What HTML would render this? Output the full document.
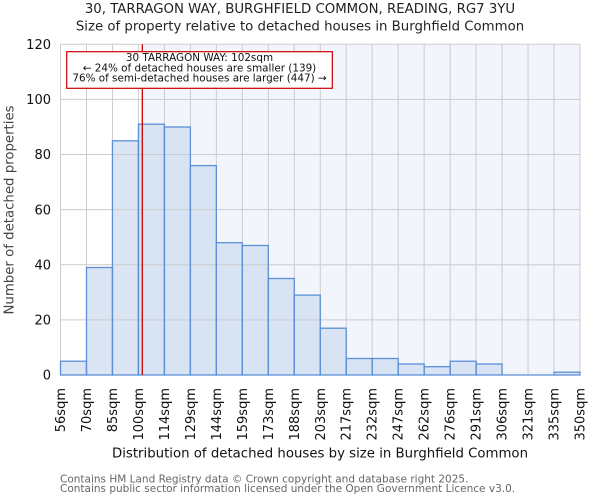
<!DOCTYPE html>
<html><head><meta charset="utf-8"><style>
html,body{margin:0;padding:0;background:#fff;}
svg{display:block;font-family:"DejaVu Sans","Liberation Sans",sans-serif;}
</style></head><body>
<svg width="600" height="500" viewBox="0 0 600 500" xmlns="http://www.w3.org/2000/svg">
<rect x="0" y="0" width="600" height="500" fill="#fff"/>
<text x="300" y="13" font-size="13.3" text-anchor="middle" fill="#222">30, TARRAGON WAY, BURGHFIELD COMMON, READING, RG7 3YU</text>
<text x="300" y="30.5" font-size="13.3" text-anchor="middle" fill="#222">Size of property relative to detached houses in Burghfield Common</text>
<!-- plot background -->
<rect x="60.5" y="44.3" width="82" height="330.7" fill="#ffffff"/>
<rect x="142.3" y="44.3" width="437.7" height="330.7" fill="#f2f5fc"/>
<!-- bars fill -->
<g fill="#d8e3f4" stroke="none">
<rect x="60.5" y="361.2" width="25.98" height="13.8" fill="#dce5f4"/>
<rect x="86.48" y="267.5" width="25.97" height="107.5" fill="#dce5f4"/>
<rect x="112.45" y="140.8" width="25.98" height="234.2" fill="#dce5f4"/>
<rect x="138.43" y="124.2" width="25.97" height="250.8"/>
<rect x="164.4" y="127.0" width="25.98" height="248"/>
<rect x="190.38" y="165.6" width="25.97" height="209.4"/>
<rect x="216.35" y="242.7" width="25.98" height="132.3"/>
<rect x="242.33" y="245.5" width="25.97" height="129.5"/>
<rect x="268.3" y="278.5" width="25.98" height="96.5"/>
<rect x="294.28" y="295.1" width="25.97" height="79.9"/>
<rect x="320.25" y="328.2" width="25.98" height="46.8"/>
<rect x="346.23" y="358.5" width="25.97" height="16.5"/>
<rect x="372.2" y="358.5" width="25.98" height="16.5"/>
<rect x="398.18" y="364.0" width="25.97" height="11"/>
<rect x="424.15" y="366.7" width="25.98" height="8.3"/>
<rect x="450.13" y="361.2" width="25.97" height="13.8"/>
<rect x="476.1" y="364.0" width="25.98" height="11"/>
<rect x="554.03" y="372.2" width="25.97" height="2.8"/>
</g>
<!-- grid -->
<g stroke="#cccccc" stroke-width="1" fill="none">
<line x1="60.5" y1="44.3" x2="580" y2="44.3"/>
<line x1="60.5" y1="99.4" x2="580" y2="99.4"/>
<line x1="60.5" y1="154.5" x2="580" y2="154.5"/>
<line x1="60.5" y1="209.6" x2="580" y2="209.6"/>
<line x1="60.5" y1="264.8" x2="580" y2="264.8"/>
<line x1="60.5" y1="319.9" x2="580" y2="319.9"/>
<line x1="60.5" y1="375" x2="580" y2="375"/>
<line x1="60.5" y1="44.3" x2="60.5" y2="375"/>
<line x1="86.48" y1="44.3" x2="86.48" y2="375"/>
<line x1="112.45" y1="44.3" x2="112.45" y2="375"/>
<line x1="138.43" y1="44.3" x2="138.43" y2="375"/>
<line x1="164.4" y1="44.3" x2="164.4" y2="375"/>
<line x1="190.38" y1="44.3" x2="190.38" y2="375"/>
<line x1="216.35" y1="44.3" x2="216.35" y2="375"/>
<line x1="242.33" y1="44.3" x2="242.33" y2="375"/>
<line x1="268.3" y1="44.3" x2="268.3" y2="375"/>
<line x1="294.28" y1="44.3" x2="294.28" y2="375"/>
<line x1="320.25" y1="44.3" x2="320.25" y2="375"/>
<line x1="346.23" y1="44.3" x2="346.23" y2="375"/>
<line x1="372.2" y1="44.3" x2="372.2" y2="375"/>
<line x1="398.18" y1="44.3" x2="398.18" y2="375"/>
<line x1="424.15" y1="44.3" x2="424.15" y2="375"/>
<line x1="450.13" y1="44.3" x2="450.13" y2="375"/>
<line x1="476.1" y1="44.3" x2="476.1" y2="375"/>
<line x1="502.08" y1="44.3" x2="502.08" y2="375"/>
<line x1="528.05" y1="44.3" x2="528.05" y2="375"/>
<line x1="554.03" y1="44.3" x2="554.03" y2="375"/>
<line x1="580" y1="44.3" x2="580" y2="375"/>
</g>
<!-- bar outlines -->
<g fill="none" stroke="#5b8fd6" stroke-width="1.3">
<rect x="60.5" y="361.2" width="25.98" height="13.8"/>
<rect x="86.48" y="267.5" width="25.97" height="107.5"/>
<rect x="112.45" y="140.8" width="25.98" height="234.2"/>
<rect x="138.43" y="124.2" width="25.97" height="250.8"/>
<rect x="164.4" y="127.0" width="25.98" height="248"/>
<rect x="190.38" y="165.6" width="25.97" height="209.4"/>
<rect x="216.35" y="242.7" width="25.98" height="132.3"/>
<rect x="242.33" y="245.5" width="25.97" height="129.5"/>
<rect x="268.3" y="278.5" width="25.98" height="96.5"/>
<rect x="294.28" y="295.1" width="25.97" height="79.9"/>
<rect x="320.25" y="328.2" width="25.98" height="46.8"/>
<rect x="346.23" y="358.5" width="25.97" height="16.5"/>
<rect x="372.2" y="358.5" width="25.98" height="16.5"/>
<rect x="398.18" y="364.0" width="25.97" height="11"/>
<rect x="424.15" y="366.7" width="25.98" height="8.3"/>
<rect x="450.13" y="361.2" width="25.97" height="13.8"/>
<rect x="476.1" y="364.0" width="25.98" height="11"/>
<line x1="502.08" y1="375" x2="554.03" y2="375"/>
<rect x="554.03" y="372.2" width="25.97" height="2.8"/>
</g>
<!-- red marker -->
<line x1="142.3" y1="44.3" x2="142.3" y2="375" stroke="#cc0000" stroke-width="1.3"/>
<!-- annotation -->
<rect x="66.7" y="51.7" width="265.6" height="36.6" fill="#fff" stroke="#cc0000" stroke-width="1.2"/>
<g font-size="10.4" text-anchor="middle" fill="#111">
<text x="199.5" y="61">30 TARRAGON WAY: 102sqm</text>
<text x="199.5" y="71.3">← 24% of detached houses are smaller (139)</text>
<text x="199.5" y="81.6">76% of semi-detached houses are larger (447) →</text>
</g>
<!-- y tick labels -->
<g font-size="13" text-anchor="end" fill="#111">
<text x="51" y="49">120</text>
<text x="51" y="104.1">100</text>
<text x="51" y="159.2">80</text>
<text x="51" y="214.3">60</text>
<text x="51" y="269.5">40</text>
<text x="51" y="324.6">20</text>
<text x="51" y="379.7">0</text>
</g>
<text transform="translate(13.5,210) rotate(-90)" font-size="13.3" text-anchor="middle" fill="#444">Number of detached properties</text>
<!-- x tick labels -->
<g font-size="13" text-anchor="end" fill="#111">
<text transform="translate(65,388) rotate(-90)">56sqm</text>
<text transform="translate(90.98,388) rotate(-90)">70sqm</text>
<text transform="translate(116.95,388) rotate(-90)">85sqm</text>
<text transform="translate(142.93,388) rotate(-90)">100sqm</text>
<text transform="translate(168.9,388) rotate(-90)">114sqm</text>
<text transform="translate(194.88,388) rotate(-90)">129sqm</text>
<text transform="translate(220.85,388) rotate(-90)">144sqm</text>
<text transform="translate(246.83,388) rotate(-90)">159sqm</text>
<text transform="translate(272.8,388) rotate(-90)">173sqm</text>
<text transform="translate(298.78,388) rotate(-90)">188sqm</text>
<text transform="translate(324.75,388) rotate(-90)">203sqm</text>
<text transform="translate(350.73,388) rotate(-90)">217sqm</text>
<text transform="translate(376.7,388) rotate(-90)">232sqm</text>
<text transform="translate(402.68,388) rotate(-90)">247sqm</text>
<text transform="translate(428.65,388) rotate(-90)">262sqm</text>
<text transform="translate(454.63,388) rotate(-90)">276sqm</text>
<text transform="translate(480.6,388) rotate(-90)">291sqm</text>
<text transform="translate(506.58,388) rotate(-90)">306sqm</text>
<text transform="translate(532.55,388) rotate(-90)">321sqm</text>
<text transform="translate(558.53,388) rotate(-90)">335sqm</text>
<text transform="translate(584.5,388) rotate(-90)">350sqm</text>
</g>
<text x="320" y="457.5" font-size="13.3" text-anchor="middle" fill="#111">Distribution of detached houses by size in Burghfield Common</text>
<g font-size="10.5" fill="#666">
<text x="60" y="482.5">Contains HM Land Registry data © Crown copyright and database right 2025.</text>
<text x="60" y="492">Contains public sector information licensed under the Open Government Licence v3.0.</text>
</g>
</svg>
</body></html>
